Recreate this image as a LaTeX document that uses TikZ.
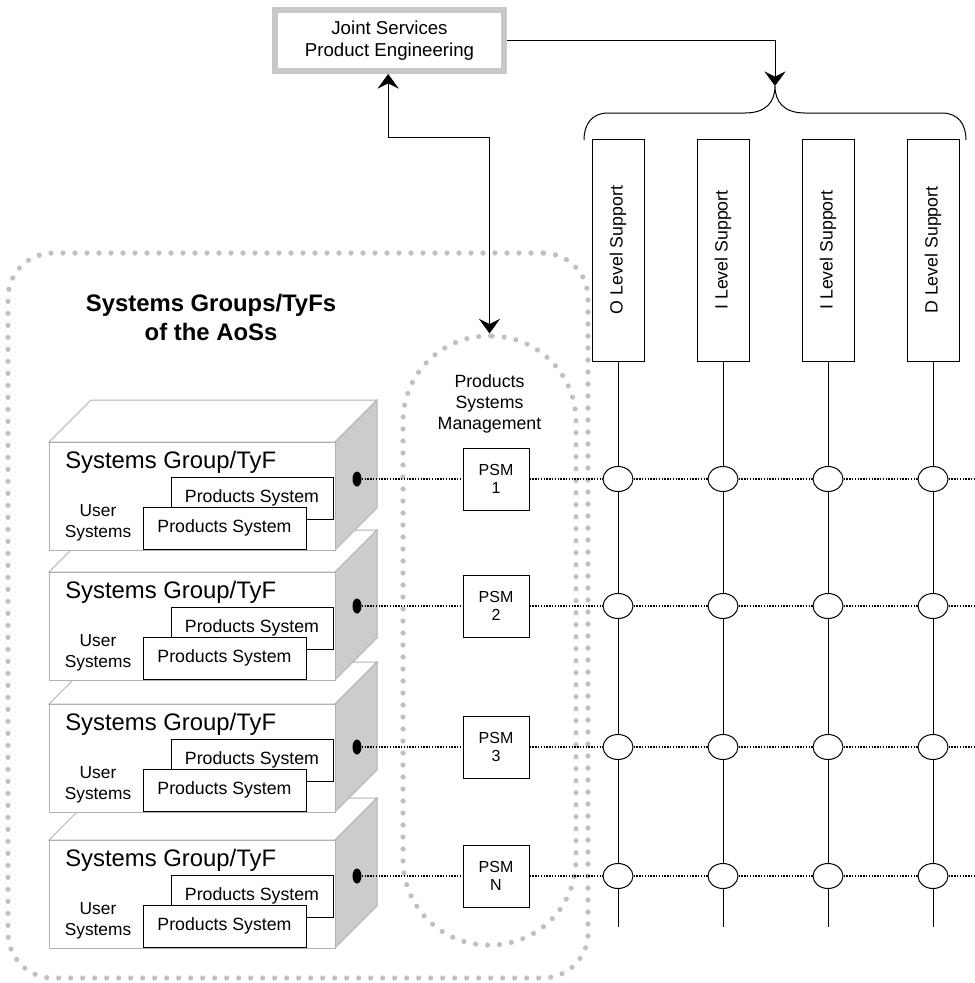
\documentclass[tikz,border=0pt]{standalone}
\usepackage{fontspec}
\setmainfont{Liberation Sans}
\usetikzlibrary{arrows.meta,shapes.geometric}

\definecolor{dotgray}{RGB}{192,192,192}
\definecolor{edgegray}{RGB}{178,178,178}
\definecolor{sidegray}{RGB}{204,204,204}
\definecolor{framegray}{RGB}{200,200,200}
\newcommand{\fsz}[2]{\fontsize{#1}{#2}\selectfont}

\tikzset{
  region/.style={draw=dotgray, line width=3.9pt, line cap=round, dash pattern=on 0pt off 9pt},
  wire/.style={line width=0.75pt},
  link/.style={line width=0.95pt, dash pattern=on 1.05pt off 1.05pt},
  headtip/.tip={Stealth[length=11pt, width=16pt, inset=4pt]},
  supportbox/.style={draw, line width=0.75pt, fill=white, rotate=90,
    minimum width=166.5pt, minimum height=39pt, inner sep=0pt, font=\fsz{13.3}{16}},
  psmbox/.style={draw, line width=0.75pt, fill=white, minimum width=49.5pt,
    minimum height=46.5pt, inner sep=0pt, align=center, font=\fsz{12}{13.5}},
  hub/.style={ellipse, draw, line width=0.75pt, fill=white, minimum width=22.5pt,
    minimum height=18.75pt, inner sep=0pt},
  port/.style={ellipse, fill=black, minimum width=6.75pt, minimum height=11.25pt, inner sep=0pt},
  prodbox/.style={draw, line width=0.75pt, fill=white, minimum width=121.5pt,
    minimum height=31.5pt, inner sep=0pt, font=\fsz{13.3}{16}},
  blockface/.style={draw=edgegray, line width=0.75pt},
}

\begin{document}
\begin{tikzpicture}[x=0.75pt, y=-0.75pt]
\useasboundingbox (0,0) rectangle (975,983);

% dotted groupings
\node[region, minimum width=435pt, minimum height=543.75pt, rounded corners=33.75pt]
  (aoss) at (298,615.5) {};
\node[region, minimum width=129.75pt, minimum height=456.75pt, rounded corners=64pt]
  (psmgroup) at (489.5,640.5) {};

\node[align=center, font=\bfseries\fsz{17.9}{21.75}] (title) at (211,317.5)
  {Systems Groups/TyFs\\of the AoSs};
\node[align=center, font=\fsz{13.3}{15.75}] (psmlabel) at (489.5,404)
  {Products\\Systems\\Management};

% engineering box
\node[draw=framegray, line width=4.5pt, fill=white, minimum width=171.75pt,
  minimum height=45.75pt, inner sep=0pt, align=center, font=\fsz{14}{16.5}]
  (jspe) at (389.5,40.5) {Joint Services\\Product Engineering};

% support columns
\node[supportbox] (sup1) at (618,250) {O Level Support};
\node[supportbox] (sup2) at (723,250) {I Level Support};
\node[supportbox] (sup3) at (828,250) {I Level Support};
\node[supportbox] (sup4) at (933,250) {D Level Support};

% brace over the support columns
\coordinate (bracetip) at (775,86);
\draw[wire] (584,140) .. controls (584,124) and (592,113) .. (608,113) -- (745,113)
  .. controls (766,113) and (775,102) .. (bracetip)
  .. controls (775,102) and (784,113) .. (805,113) -- (942,113)
  .. controls (958,113) and (966,124) .. (966,140);

\draw[wire, -{headtip}] (jspe.east) -| (bracetip);
\draw[wire, {headtip}-{headtip}] ([xshift=-1pt]jspe.south) -- ++(0,63) -| (psmgroup.north);

% system group blocks, drawn back to front
\foreach \F/\Y/\n/\lab in {840/876/4/N, 704/747/3/3, 572/606/2/2, 442/479/1/1}{
  \filldraw[blockface, fill=white] (49,\F) -- (91,{\F-42}) -- (377,{\F-42}) -- (335,\F) -- cycle;
  \filldraw[blockface, fill=sidegray] (335,\F) -- (377,{\F-42}) -- (377,{\F+66}) -- (335,{\F+108}) -- cycle;
  \filldraw[blockface, fill=white] (49,\F) rectangle (335,{\F+108});
  \node[anchor=west, inner sep=0pt, font=\fsz{17.9}{21}] (sg\n) at (65,{\F+20}) {Systems Group/TyF};
  \node[prodbox] (pb\n) at (252,{\F+56}) {Products System};
  \node[prodbox, minimum width=122.25pt] (pf\n) at (224.5,{\F+86}) {Products System};
  \node[align=center, inner sep=0pt, font=\fsz{13}{15.75}] (us\n) at (98,{\F+81}) {User\\Systems};
  \node[port] (dot\n) at (357,\Y) {};
  \node[psmbox] (psm\n) at (496,\Y) {PSM\\\lab};
  \node[hub] (e\n1) at (618,\Y) {};
  \node[hub] (e\n2) at (723,\Y) {};
  \node[hub] (e\n3) at (828,\Y) {};
  \node[hub] (e\n4) at (933,\Y) {};
  \coordinate (r\n) at (975,\Y);
  \draw[link] (dot\n) -- (psm\n) -- (e\n1) -- (e\n2) -- (e\n3) -- (e\n4) -- (r\n);
}

% vertical support lines
\foreach \j/\x in {1/618, 2/723, 3/828, 4/933}{
  \coordinate (end\j) at (\x,927);
  \draw[wire] (sup\j) -- (e1\j) -- (e2\j) -- (e3\j) -- (e4\j) -- (end\j);
}
\end{tikzpicture}
\end{document}
